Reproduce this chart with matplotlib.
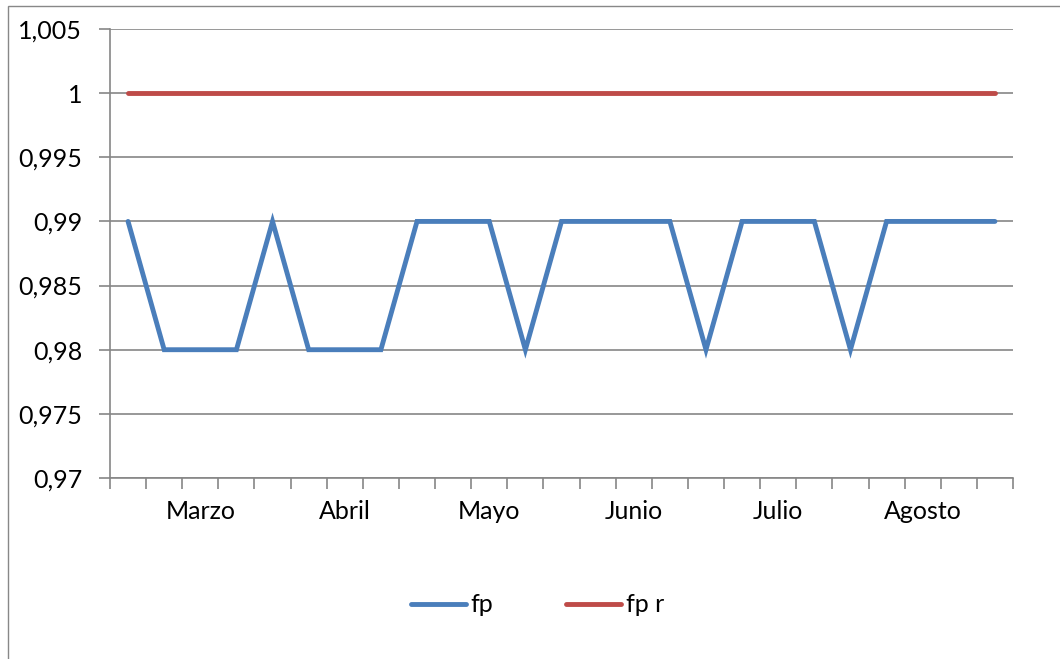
import matplotlib.pyplot as plt
import numpy as np
from matplotlib.patches import Rectangle

# values
fp = [0.99, 0.98, 0.98, 0.98, 0.99, 0.98, 0.98, 0.98, 0.99, 0.99, 0.99, 0.98, 0.99,
      0.99, 0.99, 0.99, 0.98, 0.99, 0.99, 0.99, 0.98, 0.99, 0.99, 0.99, 0.99]
fp_r = [1.0] * len(fp)
month_labels = ["Marzo", "Abril", "Mayo", "Junio", "Julio", "Agosto"]
month_pos = [2, 6, 10, 14, 18, 22]
y_ticks = [0.97, 0.975, 0.98, 0.985, 0.99, 0.995, 1.0, 1.005]

plt.rcParams["font.family"] = ["Lato", "DejaVu Sans"]

fig = plt.figure(figsize=(10.6, 6.59), dpi=100)
fig.patch.set_facecolor("white")

# outer chart border (extends past right/bottom edge as in the original)
fig.add_artist(Rectangle((8 / 1060, -0.05), 1.1, 1 - 6 / 659 + 0.05,
                         transform=fig.transFigure, fill=False,
                         edgecolor="#888888", linewidth=1.0))

ax = fig.add_axes([110 / 1060, 1 - 478 / 659, 903 / 1060, 449 / 659])

x = np.arange(len(fp))
ax.plot(x, fp, color="#4A7EBB", linewidth=3.5, solid_capstyle="round",
        solid_joinstyle="miter", label="fp", zorder=3)
ax.plot(x, fp_r, color="#BE4B48", linewidth=3.5, solid_capstyle="round",
        label="fp r", zorder=3)

ax.set_xlim(-0.5, len(fp) - 0.5)
ax.set_ylim(0.97, 1.005)

ax.set_yticks(y_ticks)
ax.set_yticklabels([f"{v:g}".replace(".", ",") for v in y_ticks], fontsize=18)
ax.yaxis.grid(True, color="#868686", linewidth=1.2)
ax.set_axisbelow(True)

# category boundary ticks, month labels in between
ax.set_xticks(np.arange(-0.5, len(fp)), minor=False)
ax.set_xticklabels([])
ax.set_xticks(month_pos, minor=True)
ax.set_xticklabels(month_labels, minor=True, fontsize=18)
ax.tick_params(axis="x", which="major", direction="out", length=8,
               color="#868686", width=1.2)
ax.tick_params(axis="x", which="minor", length=0, pad=16)
ax.tick_params(axis="y", direction="out", length=8, color="#868686",
               width=1.2, pad=12)

for side in ["top", "right"]:
    ax.spines[side].set_visible(False)
for side in ["left", "bottom"]:
    ax.spines[side].set_color("#868686")
    ax.spines[side].set_linewidth(1.2)

fig.legend(loc="center", bbox_to_anchor=(0.507, 1 - 605 / 659), ncol=2,
           frameon=False, fontsize=18, handlelength=2.2, handletextpad=0.2,
           columnspacing=2.9)

plt.savefig("out.png", dpi=100)
